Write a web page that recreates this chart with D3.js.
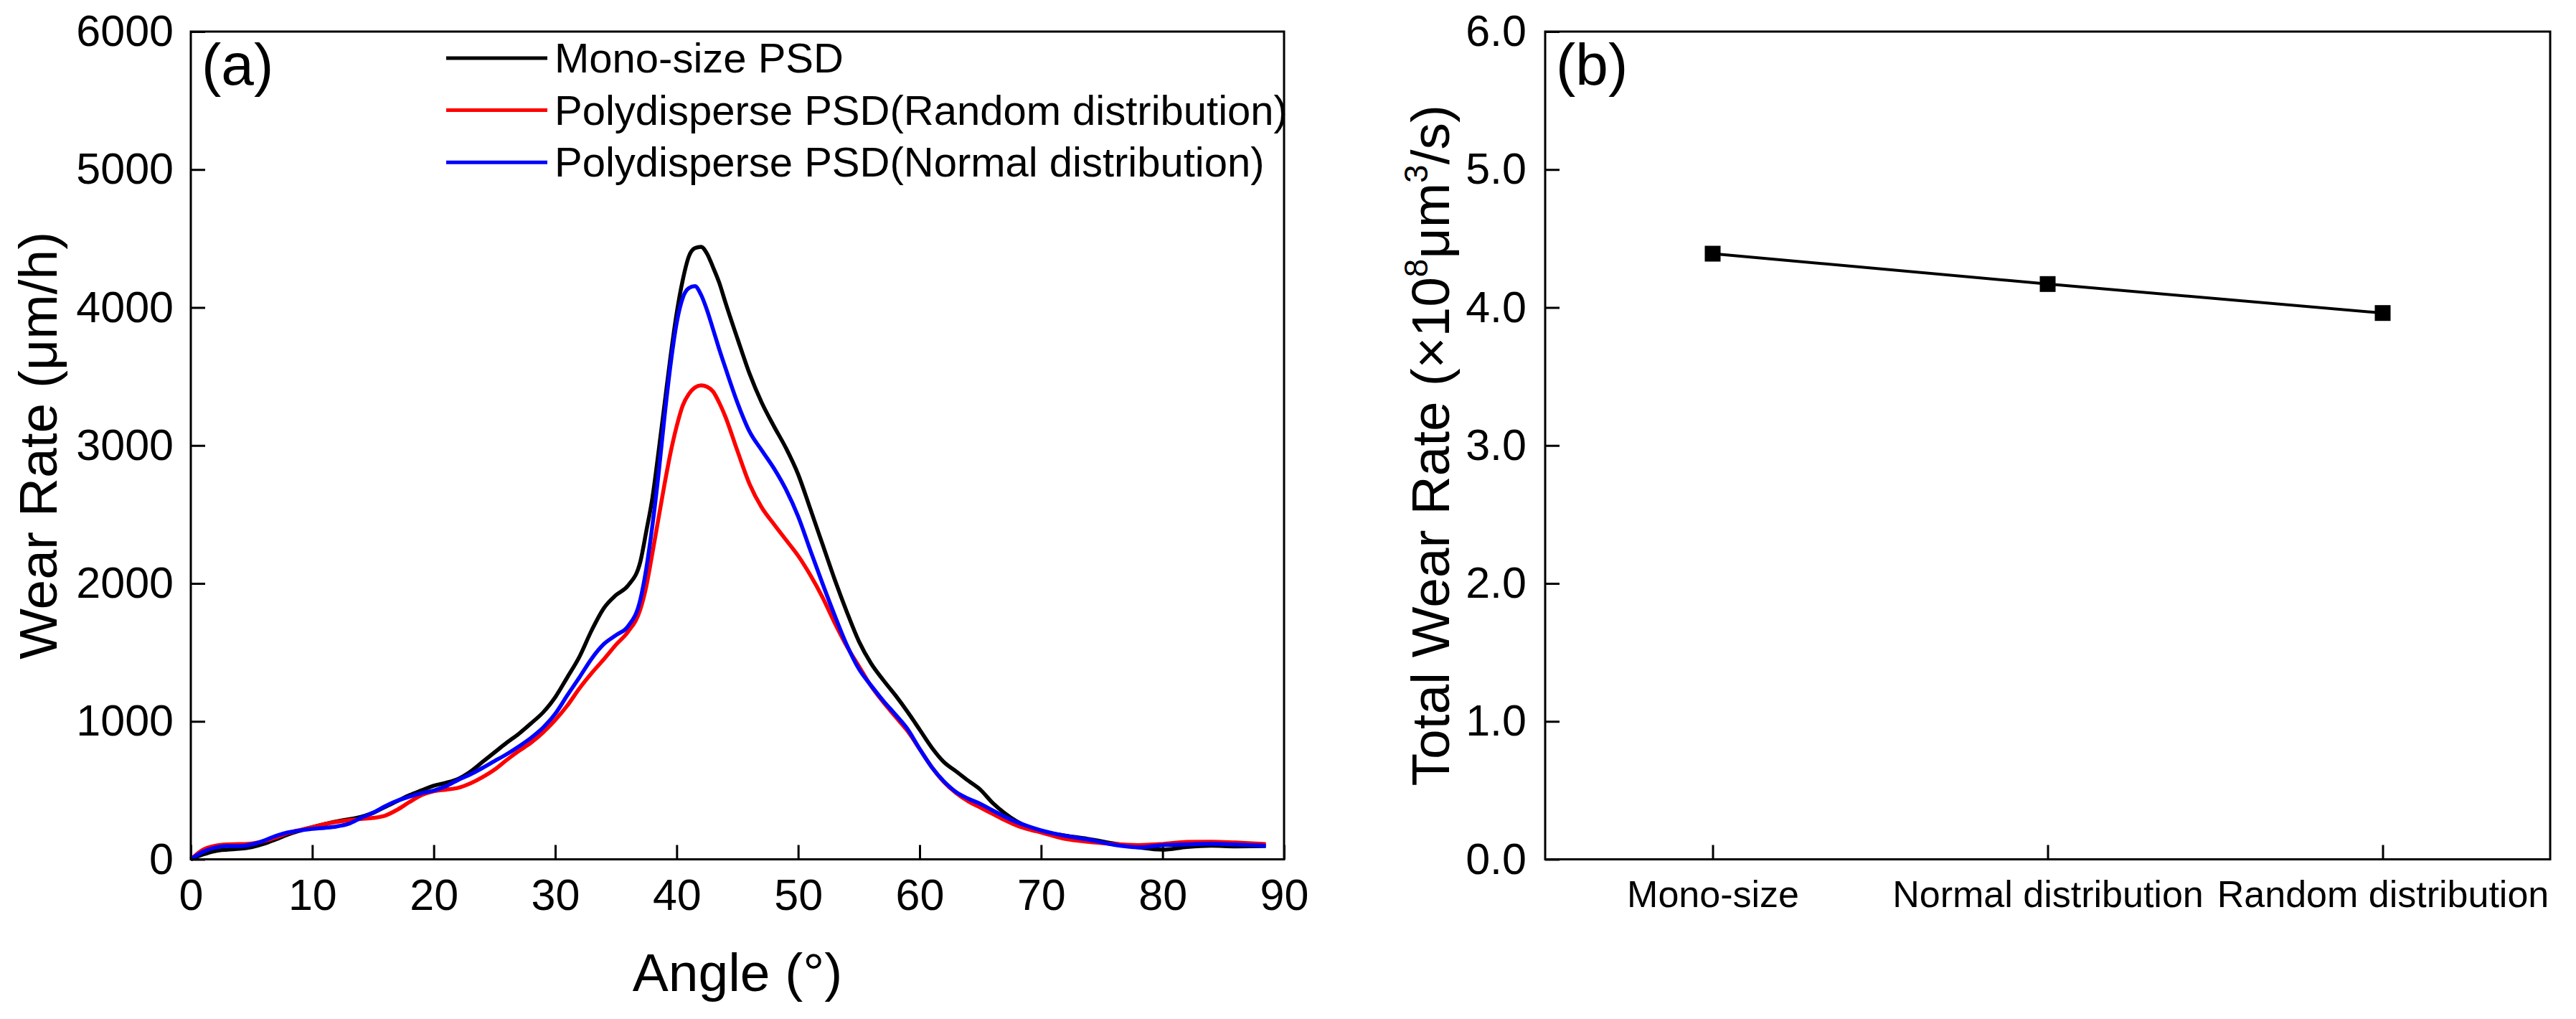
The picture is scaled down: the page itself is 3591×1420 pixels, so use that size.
<!DOCTYPE html>
<html>
<head>
<meta charset="utf-8">
<script src="https://cdn.jsdelivr.net/npm/d3@7"></script>
<style>
  body { margin: 0; background: #fff; }
  text { font-family: "Liberation Sans", Arial, sans-serif; fill: #000; }
</style>
</head>
<body>
<div id="chart"></div>
<script>
//Datos panel (a)
var angles = [0,1,2,3,4,5,6,7,8,9,10,11,12,13,14,15,16,17,18,19,20,21,22,23,24,25,26,27,28,29,30,31,32,33,34,35,36,37,37.5,38,38.5,39,39.5,40,40.5,41,41.5,42,42.5,43,43.5,44,45,46,47,48,49,50,51,52,53,54,55,56,57,58,59,60,61,62,63,64,65,66,67,68,69,70,72,74,76,78,80,82,84,86,88.5];

var monoRate = [0,35,60,70,76,88,112,145,180,208,233,255,275,290,308,336,380,422,465,500,534,555,583,635,705,775,845,910,985,1065,1175,1320,1470,1660,1820,1915,1985,2155,2380,2620,2950,3300,3650,3960,4200,4370,4430,4440,4390,4290,4180,4040,3775,3520,3310,3140,2980,2790,2540,2285,2030,1795,1580,1420,1300,1190,1070,940,810,705,638,570,505,410,335,275,232,205,172,146,115,87,70,90,99,94,96];

var randomRate = [0,70,98,108,110,115,132,158,190,213,233,255,272,283,292,300,317,360,415,465,494,505,518,550,595,650,720,785,845,920,1010,1115,1240,1350,1450,1555,1650,1810,1980,2220,2470,2720,2950,3140,3290,3373,3420,3436,3425,3390,3310,3210,2960,2720,2550,2430,2315,2200,2060,1900,1715,1545,1400,1256,1140,1035,930,800,668,560,480,420,375,330,285,245,217,195,148,126,110,103,111,126,128,122,111];

var normalRate = [0,55,85,96,96,108,135,170,195,210,221,228,238,258,300,338,385,425,455,480,499,530,575,615,662,712,762,818,880,955,1055,1190,1320,1455,1560,1625,1690,1880,2110,2420,2790,3211,3590,3890,4070,4140,4155,4093,3980,3840,3698,3565,3310,3100,2965,2835,2680,2485,2240,2000,1770,1555,1380,1260,1150,1050,945,800,668,565,488,440,402,355,310,270,237,210,170,142,105,87,103,108,113,108,99];

var seriesNames = ["Mono-size PSD", "Polydisperse PSD(Random distribution)", "Polydisperse PSD(Normal distribution)"];
var seriesColors = ["#000000", "#ff0000", "#0000ff"];
var angleTicks = [0,10,20,30,40,50,60,70,80,90];
var rateTicks = [0,1000,2000,3000,4000,5000,6000];

//Datos panel (b)
var psdTypes = ["Mono-size", "Normal distribution", "Random distribution"];
var totalRate = [4.39, 4.17, 3.96];
var totalTicks = [0,1,2,3,4,5,6];

//Lienzo
var width = 3591;
var height = 1420;
var svg = d3.select("#chart")
            .append("svg")
            .attr("width", width)
            .attr("height", height)
svg.append("rect").attr("width", width).attr("height", height).attr("fill", "#fff")

var top0 = 44, bottom0 = 1197.5
var tickLen = 20

//Panel (a): escalas
var xA = d3.scaleLinear().domain([0, 90]).range([266, 1790])
var yA = d3.scaleLinear().domain([0, 6000]).range([bottom0, top0])

var gA = svg.append("g")

var axisXA = d3.axisBottom(xA).tickValues(angleTicks).tickFormat(d3.format("d"))
               .tickSizeInner(-tickLen).tickSizeOuter(0).tickPadding(28)
var axisYA = d3.axisLeft(yA).tickValues(rateTicks).tickFormat(d3.format("d"))
               .tickSizeInner(-tickLen).tickSizeOuter(0).tickPadding(24)

function styleAxis(g, size) {
    g.select(".domain").remove()
    g.selectAll(".tick line").attr("stroke", "#000").attr("stroke-width", 3)
    g.selectAll(".tick text").attr("font-size", size).attr("fill", "#000")
       .style("font-family", '"Liberation Sans", Arial, sans-serif')
}

gA.append("g").attr("transform", `translate(0,${bottom0})`).call(axisXA)
  .call(g => styleAxis(g, 61))
  .call(g => g.selectAll(".tick text").attr("dy", 0).attr("y", 70))
gA.append("g").attr("transform", `translate(${xA(0)},0)`).call(axisYA)
  .call(g => styleAxis(g, 61))

//Curvas
var rateSeries = [monoRate, randomRate, normalRate]
var lineA = d3.line()
              .x((d, i) => xA(angles[i]))
              .y(d => yA(d))
              .curve(d3.curveMonotoneX)

gA.append("g")
  .selectAll("path")
  .data(rateSeries)
  .enter()
  .append("path")
  .attr("d", d => lineA(d))
  .attr("fill", "none")
  .attr("stroke", (d, i) => seriesColors[i])
  .attr("stroke-width", 5.5)
  .attr("stroke-linejoin", "round")

//Marco
gA.append("rect")
  .attr("x", xA(0)).attr("y", top0)
  .attr("width", xA(90) - xA(0)).attr("height", bottom0 - top0)
  .attr("fill", "none").attr("stroke", "#000").attr("stroke-width", 3)

//Leyenda
var legend = gA.append("g")
               .selectAll("g")
               .data(seriesNames)
               .enter()
               .append("g")
               .attr("transform", (d, i) => `translate(0,${81 + i * 72.6})`)
legend.append("line")
      .attr("x1", 622).attr("x2", 763)
      .attr("stroke", (d, i) => seriesColors[i])
      .attr("stroke-width", 5)
legend.append("text")
      .attr("x", 773).attr("y", 20)
      .attr("font-size", 58)
      .text(d => d)

gA.append("text").attr("x", 281).attr("y", 118).attr("font-size", 82).text("(a)")

gA.append("text")
  .attr("x", (xA(0) + xA(90)) / 2).attr("y", 1381)
  .attr("text-anchor", "middle").attr("font-size", 75)
  .text("Angle (°)")
gA.append("text")
  .attr("transform", `translate(79,${(top0 + bottom0) / 2}) rotate(-90)`)
  .attr("text-anchor", "middle").attr("font-size", 75)
  .text("Wear Rate (μm/h)")

//Panel (b): escalas
var xB = d3.scalePoint().domain(psdTypes).range([2154, 3555]).padding(0.5)
var yB = d3.scaleLinear().domain([0, 6]).range([bottom0, top0])

var gB = svg.append("g")

var axisXB = d3.axisBottom(xB).tickSizeInner(-tickLen).tickSizeOuter(0).tickPadding(0)
var axisYB = d3.axisLeft(yB).tickValues(totalTicks).tickFormat(d3.format(".1f"))
               .tickSizeInner(-tickLen).tickSizeOuter(0).tickPadding(26)

gB.append("g").attr("transform", `translate(0,${bottom0})`).call(axisXB)
  .call(g => styleAxis(g, 52))
  .call(g => g.selectAll(".tick text").attr("dy", 0).attr("y", 66))
gB.append("g").attr("transform", `translate(2154,0)`).call(axisYB)
  .call(g => styleAxis(g, 61))

var lineB = d3.line()
              .x((d, i) => xB(psdTypes[i]))
              .y(d => yB(d))

gB.append("path")
  .attr("d", lineB(totalRate))
  .attr("fill", "none").attr("stroke", "#000").attr("stroke-width", 4)

gB.append("g")
  .selectAll("rect")
  .data(totalRate)
  .enter()
  .append("rect")
  .attr("x", (d, i) => xB(psdTypes[i]) - 11)
  .attr("y", d => yB(d) - 11)
  .attr("width", 22).attr("height", 22)
  .attr("fill", "#000")

gB.append("rect")
  .attr("x", 2154).attr("y", top0)
  .attr("width", 3555 - 2154).attr("height", bottom0 - top0)
  .attr("fill", "none").attr("stroke", "#000").attr("stroke-width", 3)

gB.append("text").attr("x", 2169).attr("y", 118).attr("font-size", 82).text("(b)")

var titleB = gB.append("text")
  .attr("transform", `translate(2020,${(top0 + bottom0) / 2}) rotate(-90)`)
  .attr("text-anchor", "middle").attr("font-size", 75)
titleB.append("tspan").text("Total Wear Rate (×10")
titleB.append("tspan").attr("font-size", 46).attr("dy", -30).text("8")
titleB.append("tspan").attr("dy", 30).text("μm")
titleB.append("tspan").attr("font-size", 46).attr("dy", -30).text("3")
titleB.append("tspan").attr("dy", 30).text("/s)")
</script>
</body>
</html>
